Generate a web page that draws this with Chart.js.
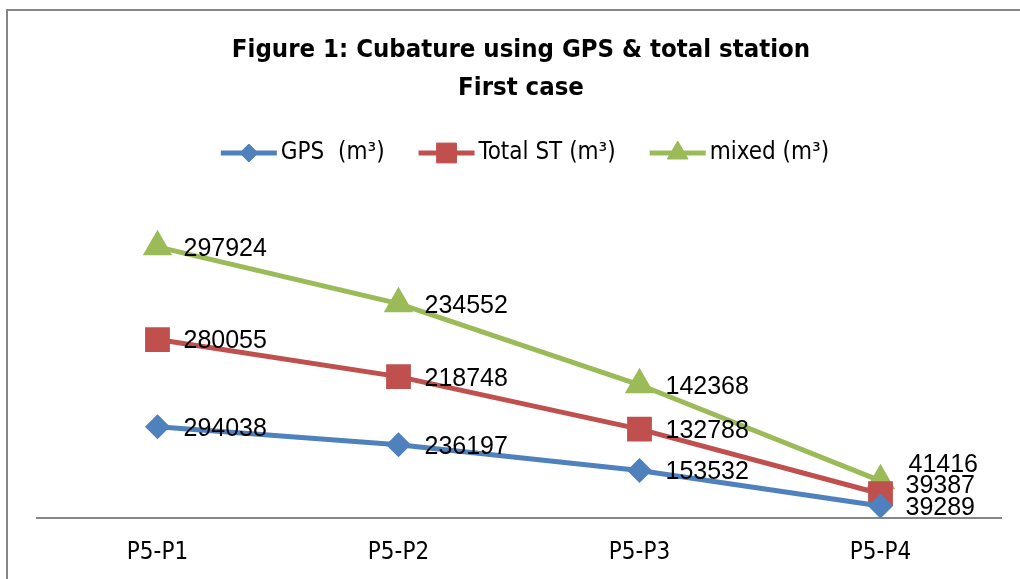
<!DOCTYPE html>
<html>
<head>
<meta charset="utf-8">
<script src="https://cdn.jsdelivr.net/npm/chart.js@4.4.1/dist/chart.umd.min.js"></script>
<style>
  html, body { margin: 0; padding: 0; background: #fff; }
</style>
</head>
<body>
<canvas id="myLineChart" width="1020" height="579"></canvas>
<script>
// |------------------------------- data -------------------------------|
var categories = ['P5-P1', 'P5-P2', 'P5-P3', 'P5-P4'];
var gpsValues = [294038, 236197, 153532, 39289];
var totalStValues = [280055, 218748, 132788, 39387];
var mixedValues = [297924, 234552, 142368, 41416];
var seriesNames = ['GPS  (m³)', 'Total ST (m³)', 'mixed (m³)'];
var titleLines = ['Figure 1: Cubature using GPS & total station', 'First case'];
var yMax = 1000000;

var narrowFont = '"Liberation Sans Narrow", "DejaVu Sans Condensed", sans-serif';
var labelFont = '"Liberation Sans", Arial, sans-serif';

// |------------------------------- plugin: frame, title, legend, data labels -------------------------------|
var excelLook = {
  id: 'excelLook',
  beforeDraw: function (chart) {
    var ctx = chart.ctx;
    ctx.save();
    ctx.fillStyle = '#ffffff';
    ctx.fillRect(0, 0, chart.width, chart.height);
    ctx.strokeStyle = '#868686';
    ctx.lineWidth = 2;
    ctx.strokeRect(7, 10, chart.width + 20, chart.height + 20); // right/bottom edges fall off the page
    ctx.restore();
  },
  afterDatasetsDraw: function (chart) {
    var ctx = chart.ctx;
    ctx.save();
    ctx.font = '25px ' + labelFont;
    ctx.fillStyle = '#000000';
    ctx.textBaseline = 'middle';
    ctx.textAlign = 'left';
    var last = categories.length - 1;
    // last column labels are pulled apart so they don't overlap
    var lastNudge = [[25, 2], [25, -8], [28, -16]];
    chart.data.datasets.forEach(function (ds, i) {
      var meta = chart.getDatasetMeta(i);
      meta.data.forEach(function (pt, j) {
        var dx = 26, dy = 2;
        if (j === last) { dx = lastNudge[i][0]; dy = lastNudge[i][1]; }
        ctx.fillText(String(ds.data[j]), pt.x + dx, pt.y + dy);
      });
    });
    ctx.restore();
  },
  afterDraw: function (chart) {
    var ctx = chart.ctx;
    ctx.save();
    // title
    ctx.fillStyle = '#000000';
    ctx.textAlign = 'center';
    ctx.textBaseline = 'middle';
    ctx.font = 'bold 25.5px ' + narrowFont;
    ctx.fillText(titleLines[0], 521, 50);
    ctx.fillText(titleLines[1], 521, 88);

    // legend
    ctx.font = '24px ' + narrowFont;
    var lineW = 56, gap = 34, legendY = 153;
    var total = 0;
    chart.data.datasets.forEach(function (ds, i) {
      total += lineW + 4 + ctx.measureText(ds.label).width;
      if (i > 0) total += gap;
    });
    var x = 525 - total / 2;
    ctx.textAlign = 'left';
    chart.data.datasets.forEach(function (ds) {
      ctx.strokeStyle = ds.borderColor;
      ctx.lineWidth = 5;
      ctx.beginPath();
      ctx.moveTo(x, legendY);
      ctx.lineTo(x + lineW, legendY);
      ctx.stroke();
      ctx.fillStyle = ds.pointBackgroundColor;
      ctx.strokeStyle = ds.pointBorderColor;
      ctx.lineWidth = 1;
      Chart.helpers.drawPoint(ctx, { pointStyle: ds.pointStyle, radius: ds.pointRadius, borderWidth: 1, rotation: 0 }, x + lineW / 2, legendY);
      x += lineW + 4;
      ctx.fillStyle = '#000000';
      ctx.fillText(ds.label, x, legendY);
      x += ctx.measureText(ds.label).width + gap;
    });
    ctx.restore();
  }
};

// |------------------------------- Chart.js - stacked line chart -------------------------------|
var ctx = document.getElementById('myLineChart').getContext('2d');
var myLineChart = new Chart(ctx, {
  type: 'line',
  data: {
    labels: categories,
    datasets: [{
      label: seriesNames[0],
      data: gpsValues,
      borderColor: '#4F81BD',
      backgroundColor: '#4F81BD',
      pointBackgroundColor: '#4F81BD',
      pointBorderColor: '#4F81BD',
      pointStyle: 'rectRot',
      pointRadius: 9,
      borderWidth: 5,
      fill: false
    }, {
      label: seriesNames[1],
      data: totalStValues,
      borderColor: '#C0504D',
      backgroundColor: '#C0504D',
      pointBackgroundColor: '#C0504D',
      pointBorderColor: '#C0504D',
      pointStyle: 'rect',
      pointRadius: 14,
      borderWidth: 5,
      fill: false
    }, {
      label: seriesNames[2],
      data: mixedValues,
      borderColor: '#9BBB59',
      backgroundColor: '#9BBB59',
      pointBackgroundColor: '#9BBB59',
      pointBorderColor: '#9BBB59',
      pointStyle: 'triangle',
      pointRadius: 12,
      borderWidth: 5,
      fill: false
    }]
  },
  options: {
    responsive: false,
    animation: false,
    devicePixelRatio: 1,
    layout: {
      padding: { left: 37, right: 15, top: 207, bottom: -8 }
    },
    scales: {
      x: {
        offset: true,
        grid: { display: true, color: 'transparent', drawTicks: false },
        border: { display: true, color: '#868686', width: 2 },
        ticks: {
          color: '#000000',
          padding: 20,
          font: { family: narrowFont, size: 24 }
        }
      },
      y: {
        stacked: true, // Excel "stacked line" - each series sits on the one below
        display: false,
        min: 0,
        max: yMax
      }
    },
    plugins: {
      legend: { display: false },
      title: { display: false },
      tooltip: { enabled: false }
    }
  },
  plugins: [excelLook]
});
</script>
</body>
</html>
